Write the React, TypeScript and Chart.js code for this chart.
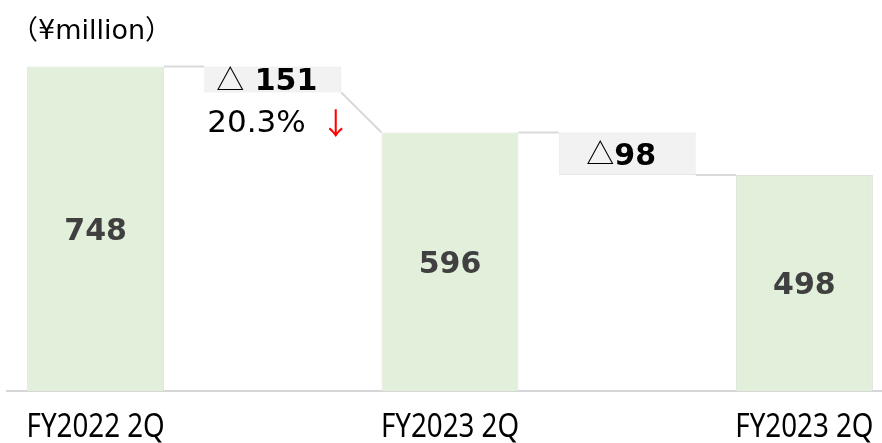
import React, { useEffect, useRef } from 'react';
import { Chart, registerables } from 'chart.js';

Chart.register(...registerables);

// ---- data ----
const CATEGORIES = ['FY2022 2Q', '', 'FY2023 2Q', '', 'FY2023 2Q'];
const TOTALS: (number | null)[] = [748, null, 596, null, 498];
const DIFF_RANGES: ([number, number] | null)[] = [null, [748, 688], null, [596, 498], null];
const DIFF_MARK = '△';
const DIFF_GAP: (string | null)[] = [null, ' ', null, '', null];
const DIFF_VALUES: (number | null)[] = [null, 151, null, 98, null];
const DIFF_RATES: (string | null)[] = [null, '20.3%', null, null, null];
const RATE_ARROW = '↓';
const UNIT_LABEL = '（¥million）';
const Y_MAX = 800;

// ---- styles ----
const FONT_LATIN = "'DejaVu Sans'";
const FONT_CJK = "'Noto Sans CJK JP'";
const BAR_FILL = '#e2efda';
const BAR_BORDER = '#dfe3da';
const BOX_FILL = '#f2f2f2';
const BOX_BORDER = '#e6e6e6';
const CONNECTOR = '#d9d9d9';
const CAT_FONT = "33px 'Noto Sans'";
const CAT_SCALE_X = 0.84;

const decorPlugin = {
  id: 'waterfallDecor',
  afterDatasetsDraw(chart: any) {
    const ctx: CanvasRenderingContext2D = chart.ctx;
    const ys = chart.scales.y;
    const xs = chart.scales.x;
    const totalEls = chart.getDatasetMeta(0).data;
    const diffEls = chart.getDatasetMeta(1).data;
    const n = CATEGORIES.length;
    const isTotal = (i: number) => TOTALS[i] != null;
    const elAt = (i: number) => (isTotal(i) ? totalEls[i] : diffEls[i]);
    const startVal = (i: number) => (isTotal(i) ? (TOTALS[i] as number) : (DIFF_RANGES[i] as number[])[0]);
    const endVal = (i: number) => (isTotal(i) ? (TOTALS[i] as number) : (DIFF_RANGES[i] as number[])[1]);

    ctx.save();
    // connectors
    ctx.strokeStyle = CONNECTOR;
    ctx.lineWidth = 2;
    for (let i = 0; i < n - 1; i++) {
      const a = elAt(i);
      const b = elAt(i + 1);
      ctx.beginPath();
      ctx.moveTo(a.x + a.width / 2, ys.getPixelForValue(endVal(i)));
      ctx.lineTo(b.x - b.width / 2, ys.getPixelForValue(startVal(i + 1)));
      ctx.stroke();
    }

    // total labels
    ctx.font = `bold 30px ${FONT_LATIN}`;
    ctx.fillStyle = '#404040';
    ctx.textAlign = 'center';
    ctx.textBaseline = 'alphabetic';
    for (let i = 0; i < n; i++) {
      if (!isTotal(i)) continue;
      const el = totalEls[i];
      const cy = (ys.getPixelForValue(TOTALS[i] as number) + ys.getPixelForValue(0)) / 2;
      ctx.fillText(String(TOTALS[i]), el.x, cy + 10.8);
    }

    // difference labels
    ctx.textAlign = 'left';
    for (let i = 0; i < n; i++) {
      if (DIFF_VALUES[i] == null) continue;
      const el = diffEls[i];
      const r = DIFF_RANGES[i] as number[];
      const top = ys.getPixelForValue(r[0]);
      const bottom = ys.getPixelForValue(r[1]);
      const cy = (top + bottom) / 2;
      const num = (DIFF_GAP[i] || '') + String(DIFF_VALUES[i]);
      ctx.font = `28px ${FONT_CJK}`;
      const w1 = ctx.measureText(DIFF_MARK).width;
      ctx.font = `bold 30px ${FONT_LATIN}`;
      const w2 = ctx.measureText(num).width;
      const x0 = el.x - (w1 + w2) / 2 - 6;
      ctx.fillStyle = '#000';
      ctx.font = `28px ${FONT_CJK}`;
      ctx.fillText(DIFF_MARK, x0, cy + 10.5);
      ctx.font = `bold 30px ${FONT_LATIN}`;
      ctx.fillText(num, x0 + w1, cy + 10.8);

      const rate = DIFF_RATES[i];
      if (rate) {
        const rx = el.x - el.width / 2 + 3;
        const by = bottom + 39.5;
        ctx.font = `31px ${FONT_LATIN}`;
        ctx.fillStyle = '#000';
        ctx.fillText(rate, rx, by);
        const wr = ctx.measureText(rate).width;
        ctx.font = `30px ${FONT_CJK}`;
        ctx.fillStyle = '#ff0000';
        ctx.fillText(RATE_ARROW, rx + wr + 15, by + 2);
      }
    }

    // category labels (condensed)
    ctx.font = CAT_FONT;
    ctx.fillStyle = '#000';
    ctx.textAlign = 'center';
    ctx.textBaseline = 'alphabetic';
    for (let i = 0; i < n; i++) {
      if (!CATEGORIES[i]) continue;
      const x = xs.getPixelForValue(i);
      ctx.save();
      ctx.translate(x, xs.bottom - 6);
      ctx.scale(CAT_SCALE_X, 1);
      ctx.fillText(CATEGORIES[i], 0, 0);
      ctx.restore();
    }

    // unit label
    ctx.font = `27px ${FONT_LATIN}, ${FONT_CJK}`;
    ctx.fillStyle = '#000';
    ctx.textAlign = 'left';
    ctx.fillText(UNIT_LABEL, 11, 39);
    ctx.restore();
  },
};

export default function App() {
  const canvasRef = useRef<HTMLCanvasElement | null>(null);

  useEffect(() => {
    if (!canvasRef.current) return;
    const chart = new Chart(canvasRef.current, {
      type: 'bar',
      data: {
        labels: CATEGORIES,
        datasets: [
          {
            label: 'Total',
            data: TOTALS as any,
            backgroundColor: BAR_FILL,
            borderColor: BAR_BORDER,
            borderWidth: 1,
            barPercentage: 0.773,
            categoryPercentage: 1,
            grouped: false,
          } as any,
          {
            label: 'Change',
            data: DIFF_RANGES as any,
            backgroundColor: BOX_FILL,
            borderColor: BOX_BORDER,
            borderWidth: 1,
            borderSkipped: false,
            barPercentage: 0.773,
            categoryPercentage: 1,
            grouped: false,
          } as any,
        ],
      },
      options: {
        animation: false,
        responsive: false,
        layout: { padding: { left: 7, right: 7, top: 44, bottom: 0 } },
        plugins: {
          legend: { display: false },
          tooltip: { enabled: false },
          title: { display: false },
        },
        scales: {
          x: {
            grid: { display: false, drawTicks: false },
            border: { display: true, color: '#d6d6d6', width: 2 },
            ticks: { display: false },
            afterFit: (scale: any) => {
              scale.height = 52;
            },
          },
          y: {
            display: false,
            min: 0,
            max: Y_MAX,
          },
        },
      },
      plugins: [decorPlugin],
    });
    return () => chart.destroy();
  }, []);

  return (
    <div style={{ position: 'absolute', left: 0, top: 0, width: 882, height: 443, overflow: 'hidden', background: '#fff' }}>
      <canvas ref={canvasRef} width={900} height={443} />
    </div>
  );
}
